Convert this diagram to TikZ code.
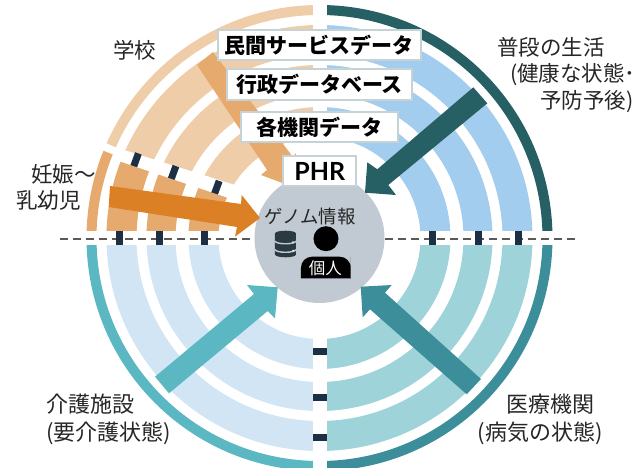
\documentclass[tikz,border=0pt]{standalone}
\usepackage{fontspec}
\setmainfont{Noto Sans CJK JP}
\newfontfamily\latinbold{Lato}
\definecolor{bandpeach}{HTML}{F0CDA9}
\definecolor{bandorange}{HTML}{E6AA6E}
\definecolor{arroworange}{HTML}{DC8025}
\definecolor{bandblue}{HTML}{A3CDEE}
\definecolor{ringdark}{HTML}{266065}
\definecolor{bandpale}{HTML}{D1E5F4}
\definecolor{ringcyan}{HTML}{5BB8C2}
\definecolor{bandaqua}{HTML}{9DD3D9}
\definecolor{ringteal}{HTML}{3C8F9A}
\definecolor{corefill}{HTML}{C1CAD2}
\definecolor{boxline}{HTML}{C5D3D6}
\definecolor{tabnavy}{HTML}{1C2F44}
\definecolor{dbicon}{HTML}{2B3A42}
\usetikzlibrary{shapes}

\begin{document}
\begin{tikzpicture}[x=1pt, y=1pt,
    databox/.style={rectangle, draw=boxline, line width=1.5pt, fill=white, inner sep=0pt, font=\bfseries\fontsize{21}{24}\selectfont},
    tabmark/.style={rectangle, fill=tabnavy, inner sep=0pt},
    place/.style={inner sep=0pt, font=\fontsize{21.5}{26.5}\selectfont, text=black!85, align=left}]
    \clip (-319.5,-230) rectangle (317.5,238);
    \foreach \a/\c in {0/bandblue, 90/bandpeach, 180/bandpale, 270/bandaqua}
        \foreach \r/\w in {116/30, 158.5/29, 198/30}
            \draw[\c, line width=\w pt] (\a:\r) arc[start angle=\a, end angle=\a+90, radius=\r];
    \fill[white] (-215,94.2) -- (-70,48.4) -- (-70,32.7) -- (-215,81.5) -- cycle;
    \foreach \x/\y/\n in {-183.5/78/1, -146/65.3/2, -102.7/50.5/3}
        \node[tabmark, minimum width=7pt, minimum height=14pt, rotate=-20] (slant\n) at (\x,\y) {};
    \begin{scope}
        \clip (-225,85) -- (-70,32.7) -- (-70,0) -- (-225,0) -- cycle;
        \foreach \r/\w in {116/30, 158.5/29, 198/30}
            \draw[bandorange, line width=\w pt] (90:\r) arc[start angle=90, end angle=180, radius=\r];
    \end{scope}
    \draw[ringdark, line width=10pt] (0:228) arc[start angle=0, end angle=90, radius=228];
    \draw[bandpeach, line width=10pt] (90:228) arc[start angle=90, end angle=156, radius=228];
    \draw[bandorange, line width=10pt] (158:228) arc[start angle=158, end angle=180, radius=228];
    \draw[ringcyan, line width=10pt] (180:228) arc[start angle=180, end angle=270, radius=228];
    \draw[ringteal, line width=10pt] (270:228) arc[start angle=270, end angle=360, radius=228];
    \fill[white] (-6.8,-240) rectangle (7.5,240);
    \fill[white] (-240,-7) rectangle (240,7);
    \draw[black!65, line width=1.2pt, dash pattern=on 8pt off 5pt] (-259.5,-1) -- (255.5,-1);
    \foreach \x/\n in {-199.5/1, -160/2, -114.5/3, 113/4, 158.8/5, 198.5/6}
        \node[tabmark, minimum width=7pt, minimum height=14pt] (cross\n) at (\x,0) {};
    \foreach \y/\n in {-113.7/1, -159.7/2, -199.3/3}
        \node[tabmark, minimum width=14.3pt, minimum height=6.5pt] (down\n) at (0.35,\y) {};
    \node[circle, fill=corefill, minimum size=130pt, inner sep=0pt] (core) at (0,0) {};
    \fill[bandorange] (-122.5,173) -- (-106.5,186) -- (-26.5,81) -- (-23.5,85) -- (-26.5,51) -- (-58.5,63) -- (-52.5,68) -- cycle;
    \fill[arroworange] (-209.5,52) -- (-78.5,34) -- (-77.8,43) -- (-59.5,20) -- (-84.5,1.3) -- (-82.5,11) -- (-210.8,31) -- cycle;
    \fill[ringdark] (153.8,150.7) -- (167.8,134.7) -- (68.8,53) -- (76.5,43) -- (45.5,45.3) -- (47.8,75.7) -- (57.8,68.7) -- cycle;
    \fill[ringcyan] (-164.5,-138.7) -- (-150.5,-155.3) -- (-51.8,-73) -- (-44.5,-80.3) -- (-41.8,-49.3) -- (-72.5,-47) -- (-65.5,-56) -- cycle;
    \fill[ringteal] (161.5,-141) -- (147.2,-156.3) -- (50.5,-71.3) -- (43.2,-79.3) -- (41.2,-48.7) -- (72.2,-47) -- (65.5,-54.7) -- cycle;
    \node[databox, minimum width=203pt, minimum height=30pt] (private) at (0,193) {民間サービスデータ};
    \node[databox, minimum width=185pt, minimum height=31pt] (admin) at (0,153.5) {行政データベース};
    \node[databox, minimum width=157pt, minimum height=30pt] (each) at (0,111) {各機関データ};
    \node[databox, minimum width=73pt, minimum height=30pt, font=\latinbold\bfseries\fontsize{25}{28}\selectfont] (phr) at (0.2,67) {PHR};
    \node[inner sep=0pt, font=\fontsize{18.4}{22}\selectfont, text=black!85] (genome) at (-9.5,21) {ゲノム情報};
    \fill[dbicon] (-44.5,4.5) -- (-44.5,-16.5) arc[x radius=10.5, y radius=2.8, start angle=180, end angle=360] -- (-23.5,4.5) arc[x radius=10.5, y radius=2.8, start angle=0, end angle=180] -- cycle;
    \foreach \y in {-3,-11.5} {
        \draw[corefill, line width=1.4pt] (-44.5,\y) arc[x radius=10.5, y radius=2.8, start angle=180, end angle=360];
        \fill[white] (-26.5,\y-1) circle (0.8);
    }
    \node[circle, fill=black, minimum size=25pt, inner sep=0pt] (head) at (6.5,-0.7) {};
    \fill[black, rounded corners=11pt] (-18.5,-40.3) [sharp corners] -- (-18.5,-30) [rounded corners=11pt] -- (-18.5,-18.7) -- (31.2,-18.7) -- (31.2,-30) [sharp corners] -- (31.2,-40.3) -- cycle;
    \node[inner sep=0pt, text=white, font=\fontsize{16.5}{20}\selectfont] (person) at (5.8,-30) {個人};
    \node[place] (school) at (-184.5,188) {学校};
    \node[place, anchor=north west] (infant) at (-303.5,74) {\hspace{15pt}妊娠〜\\乳幼児};
    \node[place, anchor=north west] (daily) at (177.5,201) {普段の生活\\\hspace{13pt}(健康な状態･\\\hspace{43pt}予防予後)};
    \node[place, anchor=north west, font=\fontsize{22}{28}\selectfont] (care) at (-273.5,-156) {介護施設\\(要介護状態)};
    \node[place, anchor=north west, font=\fontsize{22}{28}\selectfont] (medical) at (158,-156) {\hspace{29pt}医療機関\\(病気の状態)};
\end{tikzpicture}
\end{document}
